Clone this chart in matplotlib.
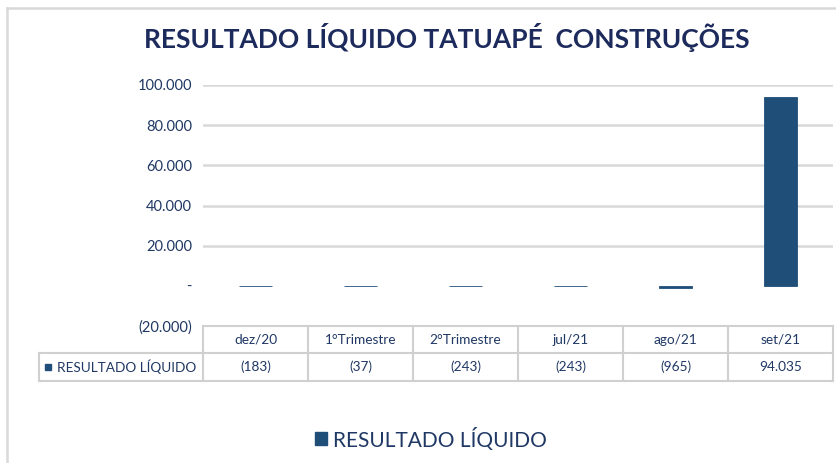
import matplotlib.pyplot as plt
import matplotlib.transforms as mtransforms
from matplotlib.lines import Line2D
from matplotlib.patches import Rectangle

# data
categorias = ['dez/20', '1°Trimestre', '2°Trimestre', 'jul/21', 'ago/21', 'set/21']
resultado = [-183, -37, -243, -243, -965, 94035]
serie_nome = 'RESULTADO LÍQUIDO'
titulo = 'RESULTADO LÍQUIDO TATUAPÉ  CONSTRUÇÕES'
yticks = [-20000, 0, 20000, 40000, 60000, 80000, 100000]

navy = '#1F3864'
bar_color = '#1F4E79'
grid_color = '#D9D9D9'

plt.rcParams['font.family'] = ['Lato', 'DejaVu Sans']

W, H = 836, 463
fig = plt.figure(figsize=(W / 100, H / 100), dpi=100)


def fx(px):
    return px / W


def fy(py):
    return 1 - py / H


# chart border
fig.add_artist(Line2D([fx(7), fx(7)], [fy(8), fy(470)], color=grid_color, lw=1.8))
fig.add_artist(Line2D([fx(7), fx(850)], [fy(8), fy(8)], color=grid_color, lw=1.8))

ax = fig.add_axes([fx(203), fy(326), fx(833) - fx(203), fy(85) - fy(326)])
x = list(range(len(categorias)))
ax.bar(x, resultado, width=0.31, color=bar_color, edgecolor=bar_color, linewidth=0.6)
ax.set_xlim(-0.5, len(categorias) - 0.5)
ax.set_ylim(-20000, 100000)
ax.set_yticks(yticks)


def fmt(v):
    if v == 0:
        return '-'
    s = f'{abs(v):,.0f}'.replace(',', '.')
    return f'({s})' if v < 0 else s


ax.set_yticklabels([fmt(v) for v in yticks], color=navy, fontsize=10.5)
ax.tick_params(axis='y', length=0, pad=8)
ax.set_xticks([])
for v in yticks:
    if v > 0:
        ax.axhline(v, color=grid_color, lw=1.8, zorder=0)
for s in ax.spines.values():
    s.set_visible(False)

# title
fig.text(fx(447), fy(38), titulo, ha='center', va='center', fontsize=19,
         fontweight='bold', color='#1C2A5C')

# data table
trans = mtransforms.blended_transform_factory(ax.transData, fig.transFigure)
y_top, y_mid, y_bot = fy(326), fy(353), fy(381)
edges = [i - 0.5 for i in range(len(categorias) + 1)]
tc = '#D0D0D0'
fig.add_artist(Line2D([fx(203), fx(833)], [y_top, y_top], color=tc, lw=1.5))
fig.add_artist(Line2D([fx(39), fx(833)], [y_mid, y_mid], color=tc, lw=1.5))
fig.add_artist(Line2D([fx(39), fx(833)], [y_bot, y_bot], color=tc, lw=1.5))
fig.add_artist(Line2D([fx(39), fx(39)], [y_mid, y_bot], color=tc, lw=1.5))
for e in edges:
    fig.add_artist(Line2D([e, e], [y_top, y_bot], color=tc, lw=1.5,
                          transform=trans))
for i, (c, v) in enumerate(zip(categorias, resultado)):
    fig.text(i, (y_top + y_mid) / 2, c, transform=trans, ha='center',
             va='center', fontsize=9.8, color=navy)
    fig.text(i, (y_mid + y_bot) / 2, fmt(v), transform=trans, ha='center',
             va='center', fontsize=9.8, color=navy)
fig.add_artist(Rectangle((fx(45), fy(370)), fx(6), fy(364) - fy(370),
                         color=bar_color, transform=fig.transFigure))
fig.text(fx(57), (y_mid + y_bot) / 2, serie_nome, ha='left', va='center',
         fontsize=9.8, color=navy)

# legend
fig.add_artist(Rectangle((fx(315), fy(445)), fx(12), fy(432) - fy(445),
                         color=bar_color, transform=fig.transFigure))
fig.text(fx(333), fy(439), serie_nome, ha='left', va='center', fontsize=15,
         color=navy)

fig.savefig('out.png', dpi=100)
